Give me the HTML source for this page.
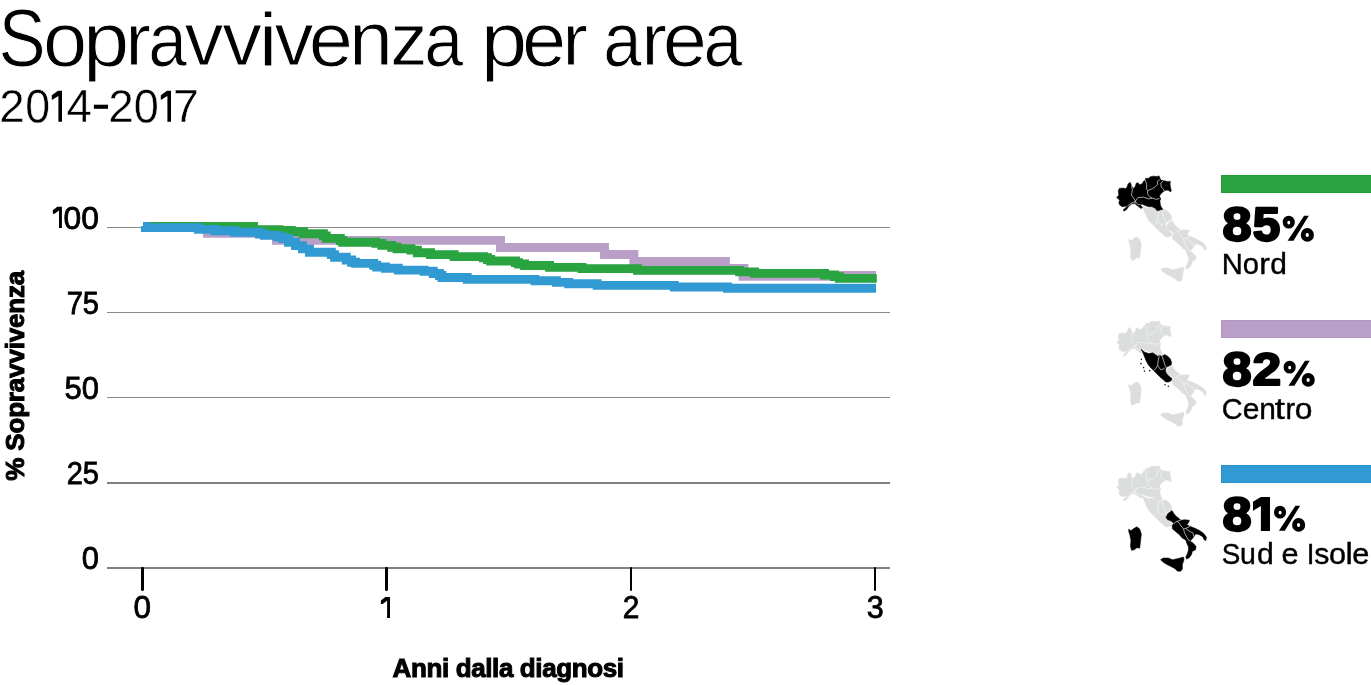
<!DOCTYPE html>
<html><head><meta charset="utf-8"><title>Sopravvivenza per area</title>
<style>
html,body{margin:0;padding:0;background:#fff;}
body{width:1371px;height:685px;overflow:hidden;font-family:"Liberation Sans",sans-serif;}
svg{display:block;will-change:transform}
text{font-family:"Liberation Sans",sans-serif;fill:#000}
</style></head><body>
<svg width="1371" height="685" viewBox="0 0 1371 685">
<rect width="1371" height="685" fill="#fff"/>
<!-- titles -->
<g font-size="78" stroke="#fff" stroke-width="1.0" stroke-linejoin="round">
<text transform="translate(-1.39,65.55) scale(0.9068,1.0499)">S</text>
<text transform="translate(42.96,65.58) scale(1.0179,0.9771)">o</text>
<text transform="translate(82.93,65.99) scale(1.0665,0.9723)">p</text>
<text transform="translate(125.13,65.44) scale(0.9902,0.9608)">r</text>
<text transform="translate(148.23,65.58) scale(0.8903,0.9771)">a</text>
<text transform="translate(184.46,65.44) scale(0.9997,0.9704)">v</text>
<text transform="translate(222.24,65.44) scale(1.0163,0.9704)">v</text>
<text transform="translate(258.46,65.82) scale(1.1072,0.9695)">i</text>
<text transform="translate(274.46,65.44) scale(0.9997,0.9704)">v</text>
<text transform="translate(308.82,65.60) scale(1.0198,0.9775)">e</text>
<text transform="translate(348.95,65.45) scale(1.0129,0.9738)">n</text>
<text transform="translate(390.22,65.44) scale(0.9545,0.9558)">z</text>
<text transform="translate(424.20,65.58) scale(0.8986,0.9771)">a</text>
<text transform="translate(480.70,65.99) scale(1.0724,0.9723)">p</text>
<text transform="translate(521.92,65.60) scale(1.0198,0.9775)">e</text>
<text transform="translate(562.29,65.44) scale(0.9874,0.9608)">r</text>
<text transform="translate(603.35,65.58) scale(0.8848,0.9771)">a</text>
<text transform="translate(641.33,65.44) scale(0.9902,0.9608)">r</text>
<text transform="translate(662.82,65.60) scale(1.0198,0.9775)">e</text>
<text transform="translate(703.62,65.58) scale(0.8931,0.9771)">a</text>
</g>
<g font-size="45" stroke="#fff" stroke-width="0.4" stroke-linejoin="round">
<text transform="translate(-0.86,122.12) scale(1.0162,1.0287)">2</text>
<text transform="translate(25.13,122.96) scale(0.9929,1.0627)">0</text>
<text transform="translate(66.46,122.11) scale(1.0118,1.0138)">4</text>
<text transform="translate(108.22,122.12) scale(1.0212,1.0287)">2</text>
<text transform="translate(133.82,122.96) scale(1.0024,1.0627)">0</text>
<text transform="translate(172.97,122.11) scale(1.0324,1.0138)">7</text>
</g>
<rect x="93.85" y="104.7" width="14.2" height="4.1" fill="#000"/>
<path d="M62,90.8 L58,90.8 L51.8,95.2 L51.8,100 L58.4,95.9 L58.4,121.8 L62,121.8 Z" fill="#000"/>
<path d="M62,90.8 L58,90.8 L51.8,95.2 L51.8,100 L58.4,95.9 L58.4,121.8 L62,121.8 Z" fill="#000" transform="translate(109,0)"/>

<!-- gridlines -->
<g shape-rendering="crispEdges">
<rect x="107" y="227" width="783" height="1" fill="#8a8a8a"/>
<rect x="107" y="312" width="783" height="1" fill="#8a8a8a"/>
<rect x="107" y="397" width="783" height="1" fill="#8a8a8a"/>
<rect x="107" y="482" width="783" height="2" fill="#808080"/>
<rect x="107" y="567" width="783" height="2" fill="#808080"/>
</g>
<!-- y labels -->
<g font-size="31.5" text-anchor="end" stroke="#000" stroke-width="0.8">
<text transform="translate(98.9,228.6) scale(1.01,1)">00</text>
<text transform="translate(98.9,313.6) scale(0.921,1)">75</text>
<text transform="translate(98.9,398.6) scale(0.982,1)">50</text>
<text transform="translate(98.9,483.6) scale(0.921,1)">25</text>
<text transform="translate(98.9,568.6) scale(0.98,1)">0</text>
</g>
<path id="one" d="M61.9,206.8 L57.3,206.8 L52.8,210.3 L52.8,213.8 L54.6,213.8 L59,210.6 L59,228 L61.9,228 Z" fill="#000"/>
<!-- x ticks -->
<g stroke="#000" stroke-linecap="round">
<line x1="142.5" x2="142.5" y1="568.3" y2="589.5" stroke-width="3"/>
<line x1="386.5" x2="386.5" y1="568.3" y2="589.5" stroke-width="3"/>
<line x1="631" x2="631" y1="568" y2="590" stroke-width="2"/>
<line x1="875" x2="875" y1="568" y2="590" stroke-width="2"/>
</g>
<g font-size="31.5" text-anchor="middle" stroke="#000" stroke-width="0.8">
<text transform="translate(142.2,617.8) scale(1.0,1)">0</text>
<text transform="translate(631.1,617.8) scale(0.95,1)">2</text>
<text transform="translate(875.3,617.8) scale(0.97,1)">3</text>
</g>
<path d="M61.9,206.8 L57.3,206.8 L52.8,210.3 L52.8,213.8 L54.6,213.8 L59,210.6 L59,228 L61.9,228 Z" fill="#000" transform="translate(328.1,390.1)"/>
<text x="392.6" y="677.1" font-size="26" font-weight="bold" stroke="#000" stroke-width="1.0" textLength="231.5" lengthAdjust="spacing">Anni dalla diagnosi</text>
<text transform="translate(24.4,480.7) rotate(-90)" font-size="26" font-weight="bold" stroke="#000" stroke-width="1.0" textLength="210" lengthAdjust="spacing">% Sopravvivenza</text>
<!-- curves -->
<g fill="none" stroke-width="8.9" stroke-linejoin="miter" stroke-linecap="butt">
<path stroke="#b99ec8" d="M143.2,227.5H207.4V233.4H276.5V240.4H500.5V247.5H604.5V254.5H633.9V261.5H725.4V268.5H743.5"/>
<path stroke="#b99ec8" stroke-width="9.7" d="M743.5,264.05 V275.93 H876"/>
<path stroke="#2aa341" d="M143.0,226.4H253.5V229.6H279.0V230.5H291.3V231.8H303.5V233.7H323.4V235.9H326.3V238.4H340.3V240.5H342.7V242.3H375.9V243.4H381.8V245.4H391.7V247.3H397.0V248.7H411.0V250.1H417.4V252.8H430.5V254.6H454.1V256.6H483.4V257.7H487.5V259.5H490.6V261.0H515.5V262.6H518.5V264.0H524.6V265.5H549.6V267.4H582.0V268.6H637.5V270.4H739.6V271.9H754.5V273.4H824.5V275.0H834.5V276.6H839.4V278.4H876.8"/>
<path stroke="#329ad2" d="M143.0,226.4H146.0V227.6H198.5V229.4H215.0V230.8H234.3V232.3H259.4V234.1H264.4V235.4H277.3V236.9H283.0V238.5H288.5V242.2H295.5V245.6H302.5V248.9H309.5V252.3H331.3V254.6H334.6V257.2H346.3V260.0H351.6V262.3H355.6V263.4H373.7V265.2H376.7V267.0H385.4V268.3H398.3V270.1H424.0V271.3H433.3V273.5H439.5V275.5H442.0V277.5H467.2V279.4H535.0V280.8H556.4V282.4H568.7V283.8H597.2V285.4H674.3V287.0H727.4V288.3H876.0"/>
</g>
<rect x="141" y="226.2" width="3" height="5.8" fill="#329ad2"/>
<!-- legend -->
<rect x="1221" y="175" width="150" height="18" fill="#2aa341"/>
<rect x="1221.5" y="175.5" width="151" height="17" fill="none" stroke="#219c39" stroke-width="1"/>
<g font-size="46" font-weight="bold" stroke="#000" stroke-width="2.2" stroke-linejoin="round">
<text transform="translate(1222.45,241.25) scale(1.1357,1.0512)">8</text>
<text transform="translate(1252.75,241.26) scale(1.0751,1.0353)">5</text>
</g>
<path transform="translate(1282.7,215.7)" d="M0.00,6.45A6.05,6.45 0 1,0 12.10,6.45A6.05,6.45 0 1,0 0.00,6.45ZM4.60,6.90A1.5,1.95 0 1,0 7.60,6.90A1.5,1.95 0 1,0 4.60,6.90ZM18.10,19.20A6.55,6.95 0 1,0 31.20,19.20A6.55,6.95 0 1,0 18.10,19.20ZM22.90,19.30A1.65,2.1 0 1,0 26.20,19.30A1.65,2.1 0 1,0 22.90,19.30ZM21.4,0L26.1,0L10.8,25.1L4.9,25.1Z" fill="#000" fill-rule="evenodd"/>
<g font-size="29" stroke="#000" stroke-width="0.4">
<text transform="translate(1221.68,274.1) scale(1.0078,1)">N</text>
<text transform="translate(1242.72,274.1) scale(1.0066,1)">o</text>
<text transform="translate(1259.14,274.1) scale(1.0940,1)">r</text>
<text transform="translate(1270.29,274.1) scale(1.0329,1)">d</text>
</g>
<g transform="translate(0,0)" stroke-linejoin="round">
<path d="M1140.95,204.2L1144.89,207.27L1148.84,208.58L1152.78,207.7L1155.41,209.46L1157.6,211.21L1159.35,210.33L1161.98,211.21L1164.61,209.46L1167.67,211.21L1170.3,213.84L1171.62,217.34L1171.18,219.97L1168.55,221.28L1166.36,222.16L1165.48,224.79L1165.92,227.42L1167.67,230.04L1170.3,232.23L1172.05,233.55L1171.18,235.74L1168.55,237.05L1165.92,237.05L1163.29,234.86L1159.79,231.8L1156.28,228.29L1153.66,225.66L1151.03,223.04L1148.4,219.97L1146.21,216.03L1144.46,211.65L1142.7,207.27Z" fill="#dcdedd" stroke="#dcdedd" stroke-width="0.4"/>
<path d="M1172.01,220.4L1173.65,223.14L1175.84,225.88L1178.58,228.07L1180.77,230.26L1184.6,229.71L1189.53,230.26L1188.43,232.99L1186.79,234.64L1190.08,236.28L1195.55,238.47L1199.93,240.66L1203.76,243.4L1206.5,247.23L1205.95,250.51L1204.31,249.96L1202.67,246.68L1198.83,244.49L1195.55,243.94L1193.91,246.68L1191.72,249.42L1190.08,251.06L1193.36,253.25L1196.1,256.53L1195.55,259.82L1192.27,261.46L1191.72,264.2L1189.53,267.48L1186.79,269.13L1185.7,266.94L1187.34,263.65L1188.43,260.37L1188.43,257.08L1186.79,253.25L1185.7,249.96L1182.41,248.32L1179.67,245.04L1175.84,241.75L1172.56,239.02L1172.01,235.73L1173.65,233.54L1171.46,231.35L1167.63,229.71L1165.99,227.52L1167.63,223.69ZM1128.76,239.02L1130.95,240.66L1133.69,238.47L1136.97,236.83L1139.71,239.02L1141.35,243.94L1140.8,248.87L1140.26,253.8L1139.71,258.18L1136.97,257.63L1134.23,259.82L1131.5,260.37L1130.4,255.99L1130.95,250.51L1129.85,245.04L1128.76,241.75ZM1160.51,269.67L1163.25,268.03L1168.18,268.03L1172.56,269.67L1178.03,268.58L1183.51,266.94L1184.05,269.67L1182.41,274.6L1182.41,278.98L1180.77,281.17L1177.48,281.17L1174.75,278.43L1170.37,276.24L1165.99,274.05L1162.7,271.86Z" fill="#dcdedd" stroke="#dcdedd" stroke-width="0.4"/>
<path d="M1159.35,210.33L1158.04,216.03L1157.6,220.41L1155.41,223.91L1153.66,225.66M1161.98,211.21L1163.73,216.03L1165.04,220.41L1166.36,222.16M1157.6,220.41L1160.66,224.79L1163.73,223.91L1165.48,222.16" fill="none" stroke="#f4f5f5" stroke-width="0.7"/>
<path d="M1173.65,233.54L1176.94,231.35L1180.77,230.26M1176.94,231.35L1179.67,233.54L1180.77,235.73L1183.51,239.02L1185.7,238.47L1190.08,236.28M1183.51,239.02L1184.6,242.85L1186.79,247.23L1188.43,249.96L1190.08,251.06M1185.7,238.47L1190.08,241.75L1192.81,242.85L1193.91,246.68" fill="none" stroke="#f4f5f5" stroke-width="0.7"/>
<path d="M1116.57,197.16L1118.76,195.41L1118.32,190.59L1119.2,188.4L1123.14,187.96L1125.33,188.84L1127.08,187.08L1127.96,184.02L1130.15,182.27L1131.46,185.33L1133.22,188.4L1134.97,187.08L1136.28,183.14L1138.04,182.7L1139.35,184.46L1141.98,184.02L1143.73,180.95L1145.48,180.51L1145.48,178.32L1148.55,178.32L1150.74,176.57L1153.81,176.13L1157.31,176.57L1159.06,175.69L1159.94,177.89L1160.81,180.08L1163.44,180.51L1166.95,181.39L1170.45,181.39L1170.01,184.02L1170.45,187.08L1171.33,190.59L1170.45,191.9L1168.26,190.15L1166.07,190.15L1164.32,191.03L1162.57,192.34L1160.38,194.53L1159.5,196.28L1160.81,198.91L1159.94,200.66L1160.38,205.04L1161.69,207.67L1163.01,209.43L1160.81,209.86L1158.19,210.74L1156.43,210.3L1155.56,208.55L1152.05,206.8L1148.55,206.8L1145.04,205.48L1142.42,204.17L1140.23,204.61L1142.42,207.67L1141.1,208.55L1138.04,206.36L1134.97,203.73L1131.9,203.73L1128.84,206.36L1126.65,209.43L1124.02,211.18L1123.14,209.86L1125.77,207.67L1127.52,205.92L1122.27,206.8L1119.64,205.04L1118.76,202.42L1119.64,200.23Z" fill="#000" stroke="#000" stroke-width="0.5"/>
<path d="M1131.46,185.33L1132.34,190.15L1131.46,195.41L1133.66,198.04L1135.41,201.1L1134.97,203.73M1127.52,205.92L1131.03,203.29L1135.41,201.54L1138.04,204.61L1140.23,204.61M1135.41,201.1L1138.04,197.6L1143.29,197.16L1148.55,198.91L1152.05,198.04L1156.43,199.35L1159.5,198.47M1145.48,180.51L1146.8,184.89L1146.36,188.84L1147.67,190.59L1147.67,194.09L1150.3,197.16L1152.05,198.04M1147.67,190.59L1152.05,188.84L1155.56,186.65L1157.75,184.46L1157.31,181.39L1159.94,179.64M1163.44,180.51L1160.81,183.14L1161.25,187.08L1163.44,189.27L1164.32,191.03" fill="none" stroke="#efe2e2" stroke-width="0.7"/>
</g>
<rect x="1221" y="320" width="150" height="18" fill="#b99ec8"/>
<rect x="1221.5" y="320.5" width="151" height="17" fill="none" stroke="#b296c3" stroke-width="1"/>
<g font-size="46" font-weight="bold" stroke="#000" stroke-width="2.2" stroke-linejoin="round">
<text transform="translate(1222.45,386.25) scale(1.1357,1.0512)">8</text>
<text transform="translate(1252.54,384.99) scale(1.1189,1.0130)">2</text>
</g>
<path transform="translate(1283.6,360.7)" d="M0.00,6.45A6.05,6.45 0 1,0 12.10,6.45A6.05,6.45 0 1,0 0.00,6.45ZM4.60,6.90A1.5,1.95 0 1,0 7.60,6.90A1.5,1.95 0 1,0 4.60,6.90ZM18.10,19.20A6.55,6.95 0 1,0 31.20,19.20A6.55,6.95 0 1,0 18.10,19.20ZM22.90,19.30A1.65,2.1 0 1,0 26.20,19.30A1.65,2.1 0 1,0 22.90,19.30ZM21.4,0L26.1,0L10.8,25.1L4.9,25.1Z" fill="#000" fill-rule="evenodd"/>
<g font-size="29" stroke="#000" stroke-width="0.4">
<text transform="translate(1221.65,419.1) scale(0.9935,1)">C</text>
<text transform="translate(1242.67,419.1) scale(1.0365,1)">e</text>
<text transform="translate(1259.23,419.1) scale(1.0288,1)">n</text>
<text transform="translate(1274.70,419.1) scale(1.2680,1)">t</text>
<text transform="translate(1285.62,419.1) scale(0.9910,1)">r</text>
<text transform="translate(1294.72,419.1) scale(1.0941,1)">o</text>
</g>
<g transform="translate(0,145)" stroke-linejoin="round">
<path d="M1116.57,197.16L1118.76,195.41L1118.32,190.59L1119.2,188.4L1123.14,187.96L1125.33,188.84L1127.08,187.08L1127.96,184.02L1130.15,182.27L1131.46,185.33L1133.22,188.4L1134.97,187.08L1136.28,183.14L1138.04,182.7L1139.35,184.46L1141.98,184.02L1143.73,180.95L1145.48,180.51L1145.48,178.32L1148.55,178.32L1150.74,176.57L1153.81,176.13L1157.31,176.57L1159.06,175.69L1159.94,177.89L1160.81,180.08L1163.44,180.51L1166.95,181.39L1170.45,181.39L1170.01,184.02L1170.45,187.08L1171.33,190.59L1170.45,191.9L1168.26,190.15L1166.07,190.15L1164.32,191.03L1162.57,192.34L1160.38,194.53L1159.5,196.28L1160.81,198.91L1159.94,200.66L1160.38,205.04L1161.69,207.67L1163.01,209.43L1160.81,209.86L1158.19,210.74L1156.43,210.3L1155.56,208.55L1152.05,206.8L1148.55,206.8L1145.04,205.48L1142.42,204.17L1140.23,204.61L1142.42,207.67L1141.1,208.55L1138.04,206.36L1134.97,203.73L1131.9,203.73L1128.84,206.36L1126.65,209.43L1124.02,211.18L1123.14,209.86L1125.77,207.67L1127.52,205.92L1122.27,206.8L1119.64,205.04L1118.76,202.42L1119.64,200.23Z" fill="#dcdedd" stroke="#dcdedd" stroke-width="0.4"/>
<path d="M1172.01,220.4L1173.65,223.14L1175.84,225.88L1178.58,228.07L1180.77,230.26L1184.6,229.71L1189.53,230.26L1188.43,232.99L1186.79,234.64L1190.08,236.28L1195.55,238.47L1199.93,240.66L1203.76,243.4L1206.5,247.23L1205.95,250.51L1204.31,249.96L1202.67,246.68L1198.83,244.49L1195.55,243.94L1193.91,246.68L1191.72,249.42L1190.08,251.06L1193.36,253.25L1196.1,256.53L1195.55,259.82L1192.27,261.46L1191.72,264.2L1189.53,267.48L1186.79,269.13L1185.7,266.94L1187.34,263.65L1188.43,260.37L1188.43,257.08L1186.79,253.25L1185.7,249.96L1182.41,248.32L1179.67,245.04L1175.84,241.75L1172.56,239.02L1172.01,235.73L1173.65,233.54L1171.46,231.35L1167.63,229.71L1165.99,227.52L1167.63,223.69ZM1128.76,239.02L1130.95,240.66L1133.69,238.47L1136.97,236.83L1139.71,239.02L1141.35,243.94L1140.8,248.87L1140.26,253.8L1139.71,258.18L1136.97,257.63L1134.23,259.82L1131.5,260.37L1130.4,255.99L1130.95,250.51L1129.85,245.04L1128.76,241.75ZM1160.51,269.67L1163.25,268.03L1168.18,268.03L1172.56,269.67L1178.03,268.58L1183.51,266.94L1184.05,269.67L1182.41,274.6L1182.41,278.98L1180.77,281.17L1177.48,281.17L1174.75,278.43L1170.37,276.24L1165.99,274.05L1162.7,271.86Z" fill="#dcdedd" stroke="#dcdedd" stroke-width="0.4"/>
<path d="M1131.46,185.33L1132.34,190.15L1131.46,195.41L1133.66,198.04L1135.41,201.1L1134.97,203.73M1127.52,205.92L1131.03,203.29L1135.41,201.54L1138.04,204.61L1140.23,204.61M1135.41,201.1L1138.04,197.6L1143.29,197.16L1148.55,198.91L1152.05,198.04L1156.43,199.35L1159.5,198.47M1145.48,180.51L1146.8,184.89L1146.36,188.84L1147.67,190.59L1147.67,194.09L1150.3,197.16L1152.05,198.04M1147.67,190.59L1152.05,188.84L1155.56,186.65L1157.75,184.46L1157.31,181.39L1159.94,179.64M1163.44,180.51L1160.81,183.14L1161.25,187.08L1163.44,189.27L1164.32,191.03" fill="none" stroke="#f4f5f5" stroke-width="0.7"/>
<path d="M1173.65,233.54L1176.94,231.35L1180.77,230.26M1176.94,231.35L1179.67,233.54L1180.77,235.73L1183.51,239.02L1185.7,238.47L1190.08,236.28M1183.51,239.02L1184.6,242.85L1186.79,247.23L1188.43,249.96L1190.08,251.06M1185.7,238.47L1190.08,241.75L1192.81,242.85L1193.91,246.68" fill="none" stroke="#f4f5f5" stroke-width="0.7"/>
<path d="M1140.95,204.2L1144.89,207.27L1148.84,208.58L1152.78,207.7L1155.41,209.46L1157.6,211.21L1159.35,210.33L1161.98,211.21L1164.61,209.46L1167.67,211.21L1170.3,213.84L1171.62,217.34L1171.18,219.97L1168.55,221.28L1166.36,222.16L1165.48,224.79L1165.92,227.42L1167.67,230.04L1170.3,232.23L1172.05,233.55L1171.18,235.74L1168.55,237.05L1165.92,237.05L1163.29,234.86L1159.79,231.8L1156.28,228.29L1153.66,225.66L1151.03,223.04L1148.4,219.97L1146.21,216.03L1144.46,211.65L1142.7,207.27Z" fill="#000" stroke="#000" stroke-width="0.5"/>
<path d="M1159.35,210.33L1158.04,216.03L1157.6,220.41L1155.41,223.91L1153.66,225.66M1161.98,211.21L1163.73,216.03L1165.04,220.41L1166.36,222.16M1157.6,220.41L1160.66,224.79L1163.73,223.91L1165.48,222.16" fill="none" stroke="#efe2e2" stroke-width="0.7"/>
<circle cx="1140.95" cy="218.66" r="0.8" fill="#2a1c1c"/><circle cx="1143.58" cy="222.6" r="0.8" fill="#2a1c1c"/><circle cx="1144.46" cy="226.1" r="0.8" fill="#2a1c1c"/><circle cx="1149.71" cy="225.66" r="0.8" fill="#2a1c1c"/><circle cx="1141.39" cy="214.27" r="0.8" fill="#2a1c1c"/><circle cx="1165.04" cy="239.68" r="0.8" fill="#2a1c1c"/><circle cx="1168.37" cy="241.26" r="0.8" fill="#2a1c1c"/>
</g>
<rect x="1221" y="465" width="150" height="18" fill="#329ad2"/>
<rect x="1221.5" y="465.5" width="151" height="17" fill="none" stroke="#2892cd" stroke-width="1"/>
<g font-size="46" font-weight="bold" stroke="#000" stroke-width="2.2" stroke-linejoin="round">
<text transform="translate(1222.45,531.25) scale(1.1357,1.0512)">8</text>
</g>
<path transform="translate(1274.0,505.7)" d="M0.00,6.45A6.05,6.45 0 1,0 12.10,6.45A6.05,6.45 0 1,0 0.00,6.45ZM4.60,6.90A1.5,1.95 0 1,0 7.60,6.90A1.5,1.95 0 1,0 4.60,6.90ZM18.10,19.20A6.55,6.95 0 1,0 31.20,19.20A6.55,6.95 0 1,0 18.10,19.20ZM22.90,19.30A1.65,2.1 0 1,0 26.20,19.30A1.65,2.1 0 1,0 22.90,19.30ZM21.4,0L26.1,0L10.8,25.1L4.9,25.1Z" fill="#000" fill-rule="evenodd"/>
<g font-size="29" stroke="#000" stroke-width="0.4">
<text transform="translate(1221.76,564.1) scale(0.9597,1)">S</text>
<text transform="translate(1240.11,564.1) scale(0.9821,1)">u</text>
<text transform="translate(1256.98,564.1) scale(1.0404,1)">d</text>
<text transform="translate(1281.44,564.1) scale(1.0584,1)">e</text>
<text transform="translate(1306.72,564.1) scale(0.9538,1)">I</text>
<text transform="translate(1314.27,564.1) scale(1.0436,1)">s</text>
<text transform="translate(1328.96,564.1) scale(1.0576,1)">o</text>
<text transform="translate(1345.45,564.1) scale(1.1333,1)">l</text>
<text transform="translate(1352.34,564.1) scale(1.0584,1)">e</text>
</g>
<path d="M1270,496.9 L1260.9,496.9 L1253,501.7 L1253,510.8 L1260.9,505.9 L1260.9,530.9 L1270,530.9 Z" fill="#000"/>
<g transform="translate(0,290)" stroke-linejoin="round">
<path d="M1116.57,197.16L1118.76,195.41L1118.32,190.59L1119.2,188.4L1123.14,187.96L1125.33,188.84L1127.08,187.08L1127.96,184.02L1130.15,182.27L1131.46,185.33L1133.22,188.4L1134.97,187.08L1136.28,183.14L1138.04,182.7L1139.35,184.46L1141.98,184.02L1143.73,180.95L1145.48,180.51L1145.48,178.32L1148.55,178.32L1150.74,176.57L1153.81,176.13L1157.31,176.57L1159.06,175.69L1159.94,177.89L1160.81,180.08L1163.44,180.51L1166.95,181.39L1170.45,181.39L1170.01,184.02L1170.45,187.08L1171.33,190.59L1170.45,191.9L1168.26,190.15L1166.07,190.15L1164.32,191.03L1162.57,192.34L1160.38,194.53L1159.5,196.28L1160.81,198.91L1159.94,200.66L1160.38,205.04L1161.69,207.67L1163.01,209.43L1160.81,209.86L1158.19,210.74L1156.43,210.3L1155.56,208.55L1152.05,206.8L1148.55,206.8L1145.04,205.48L1142.42,204.17L1140.23,204.61L1142.42,207.67L1141.1,208.55L1138.04,206.36L1134.97,203.73L1131.9,203.73L1128.84,206.36L1126.65,209.43L1124.02,211.18L1123.14,209.86L1125.77,207.67L1127.52,205.92L1122.27,206.8L1119.64,205.04L1118.76,202.42L1119.64,200.23Z" fill="#dcdedd" stroke="#dcdedd" stroke-width="0.4"/>
<path d="M1140.95,204.2L1144.89,207.27L1148.84,208.58L1152.78,207.7L1155.41,209.46L1157.6,211.21L1159.35,210.33L1161.98,211.21L1164.61,209.46L1167.67,211.21L1170.3,213.84L1171.62,217.34L1171.18,219.97L1168.55,221.28L1166.36,222.16L1165.48,224.79L1165.92,227.42L1167.67,230.04L1170.3,232.23L1172.05,233.55L1171.18,235.74L1168.55,237.05L1165.92,237.05L1163.29,234.86L1159.79,231.8L1156.28,228.29L1153.66,225.66L1151.03,223.04L1148.4,219.97L1146.21,216.03L1144.46,211.65L1142.7,207.27Z" fill="#dcdedd" stroke="#dcdedd" stroke-width="0.4"/>
<path d="M1131.46,185.33L1132.34,190.15L1131.46,195.41L1133.66,198.04L1135.41,201.1L1134.97,203.73M1127.52,205.92L1131.03,203.29L1135.41,201.54L1138.04,204.61L1140.23,204.61M1135.41,201.1L1138.04,197.6L1143.29,197.16L1148.55,198.91L1152.05,198.04L1156.43,199.35L1159.5,198.47M1145.48,180.51L1146.8,184.89L1146.36,188.84L1147.67,190.59L1147.67,194.09L1150.3,197.16L1152.05,198.04M1147.67,190.59L1152.05,188.84L1155.56,186.65L1157.75,184.46L1157.31,181.39L1159.94,179.64M1163.44,180.51L1160.81,183.14L1161.25,187.08L1163.44,189.27L1164.32,191.03" fill="none" stroke="#f4f5f5" stroke-width="0.7"/>
<path d="M1159.35,210.33L1158.04,216.03L1157.6,220.41L1155.41,223.91L1153.66,225.66M1161.98,211.21L1163.73,216.03L1165.04,220.41L1166.36,222.16M1157.6,220.41L1160.66,224.79L1163.73,223.91L1165.48,222.16" fill="none" stroke="#f4f5f5" stroke-width="0.7"/>
<path d="M1172.01,220.4L1173.65,223.14L1175.84,225.88L1178.58,228.07L1180.77,230.26L1184.6,229.71L1189.53,230.26L1188.43,232.99L1186.79,234.64L1190.08,236.28L1195.55,238.47L1199.93,240.66L1203.76,243.4L1206.5,247.23L1205.95,250.51L1204.31,249.96L1202.67,246.68L1198.83,244.49L1195.55,243.94L1193.91,246.68L1191.72,249.42L1190.08,251.06L1193.36,253.25L1196.1,256.53L1195.55,259.82L1192.27,261.46L1191.72,264.2L1189.53,267.48L1186.79,269.13L1185.7,266.94L1187.34,263.65L1188.43,260.37L1188.43,257.08L1186.79,253.25L1185.7,249.96L1182.41,248.32L1179.67,245.04L1175.84,241.75L1172.56,239.02L1172.01,235.73L1173.65,233.54L1171.46,231.35L1167.63,229.71L1165.99,227.52L1167.63,223.69ZM1128.76,239.02L1130.95,240.66L1133.69,238.47L1136.97,236.83L1139.71,239.02L1141.35,243.94L1140.8,248.87L1140.26,253.8L1139.71,258.18L1136.97,257.63L1134.23,259.82L1131.5,260.37L1130.4,255.99L1130.95,250.51L1129.85,245.04L1128.76,241.75ZM1160.51,269.67L1163.25,268.03L1168.18,268.03L1172.56,269.67L1178.03,268.58L1183.51,266.94L1184.05,269.67L1182.41,274.6L1182.41,278.98L1180.77,281.17L1177.48,281.17L1174.75,278.43L1170.37,276.24L1165.99,274.05L1162.7,271.86Z" fill="#000" stroke="#000" stroke-width="0.5"/>
<path d="M1173.65,233.54L1176.94,231.35L1180.77,230.26M1176.94,231.35L1179.67,233.54L1180.77,235.73L1183.51,239.02L1185.7,238.47L1190.08,236.28M1183.51,239.02L1184.6,242.85L1186.79,247.23L1188.43,249.96L1190.08,251.06M1185.7,238.47L1190.08,241.75L1192.81,242.85L1193.91,246.68" fill="none" stroke="#efe2e2" stroke-width="0.7"/>
</g>

</svg>
</body></html>
